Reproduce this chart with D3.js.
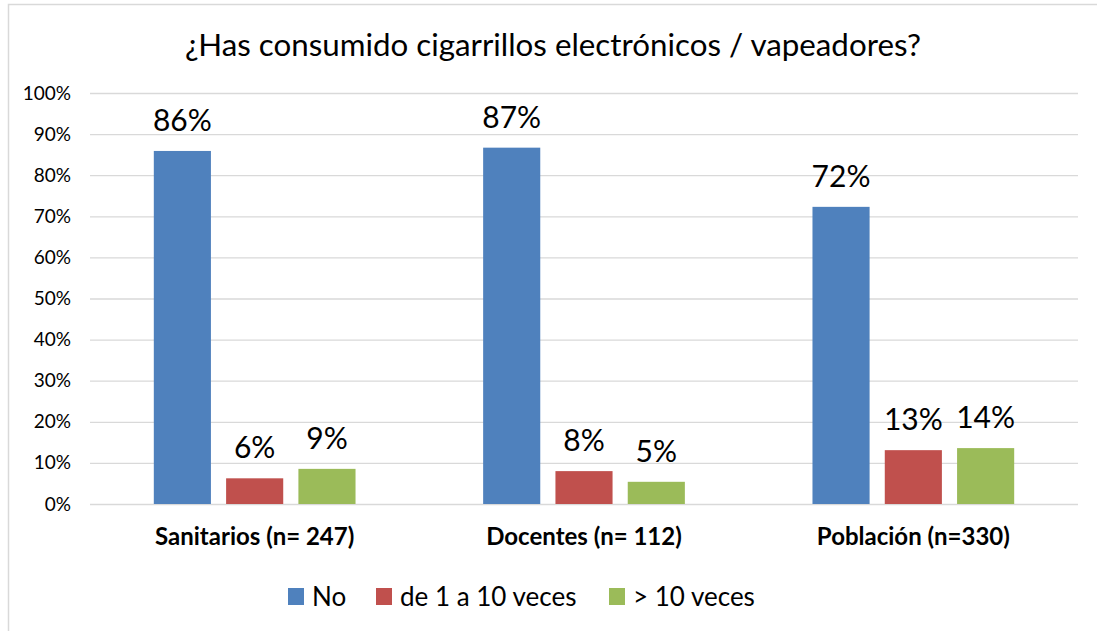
<!DOCTYPE html>
<html><head><meta charset="utf-8">
<script src="https://cdn.jsdelivr.net/npm/d3@7/dist/d3.min.js"></script>
<style>
html,body{margin:0;padding:0;background:#fff;}
svg{display:block;font-family:Lato,"Open Sans",sans-serif;}
</style></head>
<body>
<svg id="chart" width="1097" height="631"></svg>
<script>
const title = "¿Has consumido cigarrillos electrónicos / vapeadores?";
const categories = ["Sanitarios (n= 247)", "Docentes (n= 112)", "Población (n=330)"];
const seriesNames = ["No", "de 1 a 10 veces", "> 10 veces"];
const seriesColors = ["#4F81BD", "#C0504D", "#9BBB59"];
const valuesNo = [0.859, 0.867, 0.723];
const valuesDe1a10 = [0.0625, 0.080, 0.131];
const valuesMas10 = [0.0855, 0.054, 0.136];
const yTicks = [0, 0.1, 0.2, 0.3, 0.4, 0.5, 0.6, 0.7, 0.8, 0.9, 1.0];

const series = [valuesNo, valuesDe1a10, valuesMas10];

const svg = d3.select("#chart");
const plot = {left: 90, right: 1078, top: 93, bottom: 504};

// outer border
svg.append("rect").attr("x", 8.5).attr("y", 4.5).attr("width", 1200).attr("height", 800)
  .attr("fill", "none").attr("stroke", "#d9d9d9").attr("stroke-width", 1.5);

// title
svg.append("text").attr("x", 553).attr("y", 56).attr("text-anchor", "middle")
  .attr("font-size", 31.3).attr("fill", "#000").text(title);

const y = d3.scaleLinear().domain([0, 1]).range([plot.bottom, plot.top]);
const x0 = d3.scaleBand().domain(categories).range([plot.left, plot.right]).paddingInner(0.3875).paddingOuter(0.19375);
const x1 = d3.scaleBand().domain(d3.range(series.length)).range([0, x0.bandwidth()]).paddingInner(0.21).paddingOuter(0);

// gridlines + y axis labels
const yAxis = d3.axisLeft(y).tickValues(yTicks).tickFormat(d3.format(".0%"))
  .tickSize(-(plot.right - plot.left)).tickPadding(19);
const gy = svg.append("g").attr("transform", `translate(${plot.left},0)`).call(yAxis);
gy.select(".domain").remove();
gy.selectAll(".tick line").attr("stroke", "#d9d9d9").attr("stroke-width", 1.3);
gy.selectAll(".tick text").attr("font-size", 19).attr("fill", "#000").attr("font-family", "Lato");

// bars
const groups = svg.append("g").selectAll("g").data(categories).join("g")
  .attr("transform", d => `translate(${x0(d)},0)`);
series.forEach((vals, si) => {
  groups.append("rect")
    .attr("x", x1(si)).attr("width", x1.bandwidth())
    .attr("y", (d, i) => y(vals[i])).attr("height", (d, i) => y(0) - y(vals[i]))
    .attr("fill", seriesColors[si]);
  groups.append("text")
    .attr("x", x1(si) + x1.bandwidth() / 2)
    .attr("y", (d, i) => y(vals[i]) - 20)
    .attr("text-anchor", "middle").attr("font-size", 30).attr("fill", "#000")
    .text((d, i) => Math.round(vals[i] * 100) + "%");
});

// x axis labels
const xAxis = d3.axisBottom(x0).tickSize(0).tickPadding(0);
const gx = svg.append("g").attr("transform", `translate(0,${plot.bottom})`).call(xAxis);
gx.select(".domain").remove();
gx.selectAll(".tick text").attr("font-size", 24).attr("font-weight", "bold").attr("fill", "#000")
  .attr("font-family", "Lato").attr("dy", null).attr("y", 41);

// legend
const legendX = [288, 376, 609];
const lg = svg.append("g").selectAll("g").data(seriesNames).join("g")
  .attr("transform", (d, i) => `translate(${legendX[i]},588)`);
lg.append("rect").attr("width", 16).attr("height", 17).attr("fill", (d, i) => seriesColors[i]);
lg.append("text").attr("x", 24).attr("y", 18).attr("font-size", 26).attr("fill", "#000").text(d => d);
</script>
</body></html>
